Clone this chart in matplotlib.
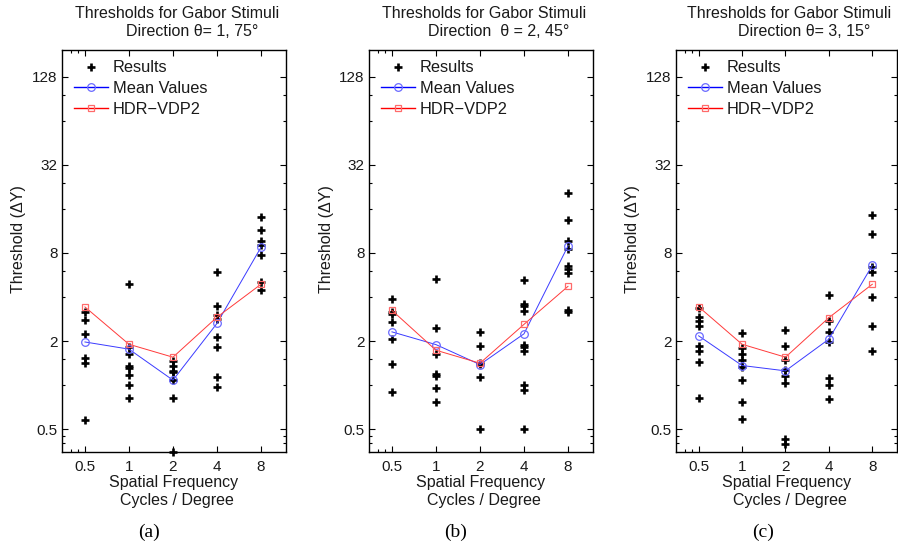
import matplotlib
matplotlib.use('Agg')
import matplotlib.pyplot as plt
from matplotlib.lines import Line2D
from matplotlib.ticker import FixedLocator, NullFormatter

plt.rcParams['font.family'] = ['Liberation Sans', 'DejaVu Sans']

# 空間周波数 (cycles / degree)
freqs = [0.5, 1, 2, 4, 8]
freq_labels = ['0.5', '1', '2', '4', '8']
ytick_vals = [0.5, 2, 8, 32, 128]
ytick_labels = ['0.5', '2', '8', '32', '128']

# (a) θ = 1
results_a = [
    [3.14, 2.78, 2.23, 1.54, 1.41, 0.58],
    [4.91, 1.83, 1.63, 1.35, 1.31, 1.17, 1.0, 0.82],
    [1.47, 1.35, 1.25, 1.23, 1.08, 0.82, 0.35],
    [5.93, 3.47, 3.03, 2.81, 2.12, 1.83, 1.14, 0.97],
    [14.1, 11.5, 9.67, 9.08, 7.75, 5.09, 4.47],
]
mean_a = [1.97, 1.76, 1.08, 2.64, 8.75]
hdr_a = [3.42, 1.90, 1.55, 2.91, 4.89]

# (b) θ = 2
results_b = [
    [3.86, 3.17, 3.06, 2.70, 2.06, 1.39, 0.90],
    [5.34, 2.47, 1.63, 1.19, 1.15, 0.95, 0.76],
    [2.31, 1.86, 1.42, 1.39, 1.13, 0.50],
    [5.25, 3.58, 3.46, 3.21, 1.89, 1.82, 1.70, 1.0, 0.92, 0.50],
    [20.7, 13.45, 9.71, 8.52, 6.49, 6.22, 5.81, 3.24, 3.17],
]
mean_b = [2.31, 1.89, 1.38, 2.24, 8.93]
hdr_b = [3.24, 1.73, 1.41, 2.60, 4.73]

# (c) θ = 3
results_c = [
    [3.35, 2.92, 2.74, 2.53, 1.86, 1.70, 1.44, 0.815],
    [2.27, 1.79, 1.64, 1.48, 1.33, 1.08, 0.765, 0.59],
    [2.38, 1.86, 1.48, 1.27, 1.16, 1.03, 0.43, 0.395],
    [4.13, 2.74, 2.32, 1.98, 1.12, 1.0, 0.80],
    [14.6, 10.8, 6.39, 5.96, 4.0, 2.53, 1.71],
]
mean_c = [2.17, 1.36, 1.25, 2.06, 6.59]
hdr_c = [3.43, 1.90, 1.55, 2.89, 4.89]

panels = [
    ('Direction θ= 1, 75°', '(a)', results_a, mean_a, hdr_a),
    ('Direction  θ = 2, 45°', '(b)', results_b, mean_b, hdr_b),
    ('Direction θ= 3, 15°', '(c)', results_c, mean_c, hdr_c),
]

W, H = 898, 548
fig = plt.figure(figsize=(W / 100, H / 100), dpi=100)

ax_left = [62, 369, 676]
ax_width = [224, 224, 221]
ax_top, ax_bot = 49.5, 452
txt = '#1a1a1a'
fs = 11.5

for (sub, tag, res, mean, hdr), left, ax_w in zip(panels, ax_left, ax_width):
    ax = fig.add_axes([left / W, 1 - ax_bot / H, ax_w / W, (ax_bot - ax_top) / H])
    ax.set_xscale('log', base=2)
    ax.set_yscale('log', base=2)

    for f, vals in zip(freqs, res):
        ax.plot([f] * len(vals), vals, ls='none', marker='+', ms=5.5, mew=1.9,
                color='black', clip_on=False, zorder=3)
    ax.plot(freqs, mean, color='#3a3aff', lw=0.7, marker='o', ms=5.5,
            mfc='none', mec='#6a6aff', mew=0.9, zorder=4)
    ax.plot(freqs, hdr, color='#ff3a3a', lw=0.7, marker='s', ms=4.8,
            mfc='none', mec='#ff6a6a', mew=0.9, zorder=4)

    ax.set_xlim(0.3484, 11.86)
    ax.set_ylim(0.3484, 197)

    ax.xaxis.set_major_locator(FixedLocator(freqs))
    ax.xaxis.set_minor_locator(FixedLocator([0.4, 0.45]))
    ax.set_xticklabels(freq_labels)
    ax.xaxis.set_minor_formatter(NullFormatter())
    ax.yaxis.set_major_locator(FixedLocator(ytick_vals))
    ax.yaxis.set_minor_locator(FixedLocator([0.4, 0.45, 1, 1.5, 4, 6, 16, 24, 64, 96]))
    ax.set_yticklabels(ytick_labels)
    ax.yaxis.set_minor_formatter(NullFormatter())

    ax.tick_params(which='both', direction='in', top=True, right=True,
                   width=0.8, colors='black', labelcolor=txt, labelsize=11)
    ax.tick_params(which='major', length=4)
    ax.tick_params(which='minor', length=2.5)
    ax.tick_params(axis='x', pad=6)
    ax.tick_params(axis='y', pad=3)
    for sp in ax.spines.values():
        sp.set_linewidth(1.0)

    handles = [
        Line2D([], [], ls='none', marker='+', ms=5.5, mew=1.9, color='black'),
        Line2D([], [], color='blue', lw=1.0, marker='o', ms=5.5, mfc='none', mec='#6a6aff', mew=0.9),
        Line2D([], [], color='red', lw=1.0, marker='s', ms=4.8, mfc='none', mec='#ff6a6a', mew=0.9),
    ]
    ah = ax_bot - ax_top
    ax.legend(handles, ['Results', 'Mean Values', 'HDR\u2212VDP2'], loc='upper left',
              bbox_to_anchor=(12 / ax_w, 1 - 11 / ah), frameon=False, fontsize=11.8,
              handlelength=2.1, handletextpad=0.25, labelspacing=0.35,
              borderpad=0, borderaxespad=0, labelcolor=txt)

    # タイトル (2行)
    ax.text(0.5 + 3 / ax_w, 1 + (ax_top - 13) / ah, 'Thresholds for Gabor Stimuli',
            transform=ax.transAxes, ha='center', va='center', fontsize=fs, color=txt)
    ax.text(0.5 + 18 / ax_w, 1 + (ax_top - 32) / ah, sub,
            transform=ax.transAxes, ha='center', va='center', fontsize=fs, color=txt)

    # 軸ラベル
    ax.text(-43 / ax_w, (ax_bot - 239) / ah, 'Threshold (ΔY)', rotation=90,
            transform=ax.transAxes, ha='center', va='center', fontsize=fs, color=txt)
    ax.text(0.5, (ax_bot - 482) / ah, 'Spatial Frequency',
            transform=ax.transAxes, ha='center', va='center', fontsize=fs, color=txt)
    ax.text(0.5 + 3 / ax_w, (ax_bot - 500) / ah, 'Cycles / Degree',
            transform=ax.transAxes, ha='center', va='center', fontsize=fs, color=txt)

    fig.text((left + 112 - 25) / W, 1 - 532 / H, tag, ha='center', va='center',
             fontsize=14, family='Liberation Serif', color='black')

fig.savefig('out.png', dpi=100)
